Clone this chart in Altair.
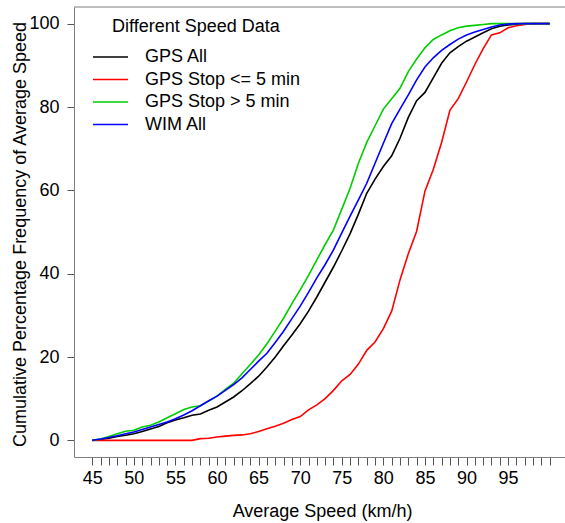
import altair as alt
import pandas as pd

speeds = list(range(45, 101))

gps_all = [0, 0.2, 0.5, 0.9, 1.2, 1.6, 2.1, 2.7, 3.3, 4.2,
           4.9, 5.4, 6.0, 6.3, 7.2, 8.0, 9.2, 10.4, 11.9, 13.6,
           15.4, 17.6, 20.0, 22.7, 25.3, 28.0, 31.0, 34.4, 38.0, 41.6,
           45.5, 49.6, 54.3, 59.3, 62.7, 65.7, 68.3, 72.5, 77.5, 81.5,
           83.5, 87.0, 90.5, 93.0, 94.5, 95.8, 96.8, 97.8, 98.8, 99.4,
           99.7, 99.9, 100, 100, 100, 100]

gps_stop_le5 = [0, 0, 0, 0, 0, 0, 0, 0, 0, 0,
                0, 0, 0, 0.4, 0.5, 0.8, 1.0, 1.2, 1.3, 1.6,
                2.1, 2.8, 3.4, 4.1, 5.0, 5.7, 7.3, 8.5, 10.0, 12.0,
                14.3, 15.8, 18.3, 21.6, 23.6, 26.8, 31.0, 38.5, 44.8, 50.2,
                59.8, 65.0, 71.5, 79.2, 82.0, 86.0, 90.2, 94.0, 97.3, 97.8,
                99.0, 99.5, 99.8, 100, 100, 100]

gps_stop_gt5 = [0, 0.3, 0.9, 1.6, 2.2, 2.4, 3.2, 3.6, 4.4, 5.4,
                6.4, 7.4, 8.0, 8.3, 9.4, 10.6, 12.2, 13.7, 16.0, 18.2,
                20.5, 23.2, 26.2, 29.3, 32.8, 36.1, 39.6, 43.3, 47.0, 50.5,
                55.5, 60.5, 66.5, 71.5, 75.5, 79.5, 82.0, 84.5, 88.5, 91.5,
                94.2, 96.2, 97.3, 98.3, 99.0, 99.4, 99.6, 99.8, 100, 100,
                100, 100, 100, 100, 100, 100]

wim_all = [0, 0.3, 0.7, 1.1, 1.6, 2.0, 2.6, 3.2, 3.8, 4.4,
           5.2, 6.1, 7.1, 8.3, 9.5, 10.6, 12.0, 13.4, 15.0, 17.0,
           19.0, 20.9, 23.5, 26.2, 29.2, 32.2, 35.5, 39.0, 42.2, 45.7,
           49.8, 53.8, 57.7, 61.7, 66.5, 71.3, 76.0, 79.5, 82.9, 86.5,
           89.6, 91.8, 93.6, 95.0, 96.3, 97.3, 98.0, 98.6, 99.2, 99.7,
           99.9, 100, 100, 100, 100, 100]

series_names = ["GPS All", "GPS Stop <= 5 min", "GPS Stop > 5 min", "WIM All"]
series_colors = ["#000000", "#FF0000", "#00CD00", "#0000FF"]
series_values = [gps_all, gps_stop_le5, gps_stop_gt5, wim_all]

rows = []
for k, (name, vals) in enumerate(zip(series_names, series_values)):
    for s, v in zip(speeds, vals):
        rows.append({"speed": s, "pct": v, "series": name, "ord": k})
df = pd.DataFrame(rows)

FONT = "Liberation Sans"
W, H = 491, 450

x_ticks = list(range(45, 101))
y_ticks = [0, 20, 40, 60, 80, 100]

lines = alt.Chart(df).mark_line(strokeWidth=1.6).encode(
    x=alt.X("speed:Q",
            scale=alt.Scale(domain=[42.8, 101.84], nice=False, zero=False),
            axis=alt.Axis(values=x_ticks,
                          labelExpr="datum.value % 5 == 0 && datum.value < 100 ? datum.label : ''",
                          title="Average Speed (km/h)",
                          tickSize=8, labelPadding=4, labelFlush=False,
                          titleX=248, titleY=59.5, titleBaseline="alphabetic")),
    y=alt.Y("pct:Q",
            scale=alt.Scale(domain=[-4, 104], nice=False, zero=False),
            axis=alt.Axis(values=y_ticks,
                          title="Cumulative Percentage Frequency of Average Speed",
                          tickSize=7, labelPadding=8,
                          titleX=-49, titleY=227, titleAngle=-90,
                          titleBaseline="alphabetic", titleAlign="center")),
    color=alt.Color("series:N",
                    scale=alt.Scale(domain=series_names, range=series_colors),
                    sort=series_names,
                    legend=alt.Legend(title="Different Speed Data",
                                      orient="none", legendX=18, legendY=11,
                                      symbolType="stroke", symbolSize=1225,
                                      symbolStrokeWidth=1.6, labelOffset=16,
                                      titleAnchor="middle", titlePadding=12,
                                      clipHeight=18, rowPadding=4.5)),
    order=alt.Order("ord:Q"),
    detail="series:N",
)

top_line = alt.Chart(pd.DataFrame({"a": [0]})).mark_rule(color="#808080", strokeWidth=1).encode(
    x=alt.value(0), x2=alt.value(W), y=alt.value(0)
)

chart = alt.layer(lines, top_line).properties(
    width=W, height=H,
    background="white",
    autosize=alt.AutoSizeParams(type="none"),
    padding={"left": 74, "top": 7, "right": 0, "bottom": 66},
).configure_view(stroke=None).configure_axis(
    grid=False, domainColor="#808080", tickColor="#555555",
    labelFont=FONT, titleFont=FONT, labelFontSize=18, titleFontSize=18,
    labelColor="#000000", titleColor="#000000", titleFontWeight="normal",
).configure_legend(
    labelFont=FONT, titleFont=FONT, labelFontSize=18, titleFontSize=18,
    labelColor="#000000", titleColor="#000000", titleFontWeight="normal",
)

chart.save("out.html", embed_options={"renderer": "svg", "actions": False})
